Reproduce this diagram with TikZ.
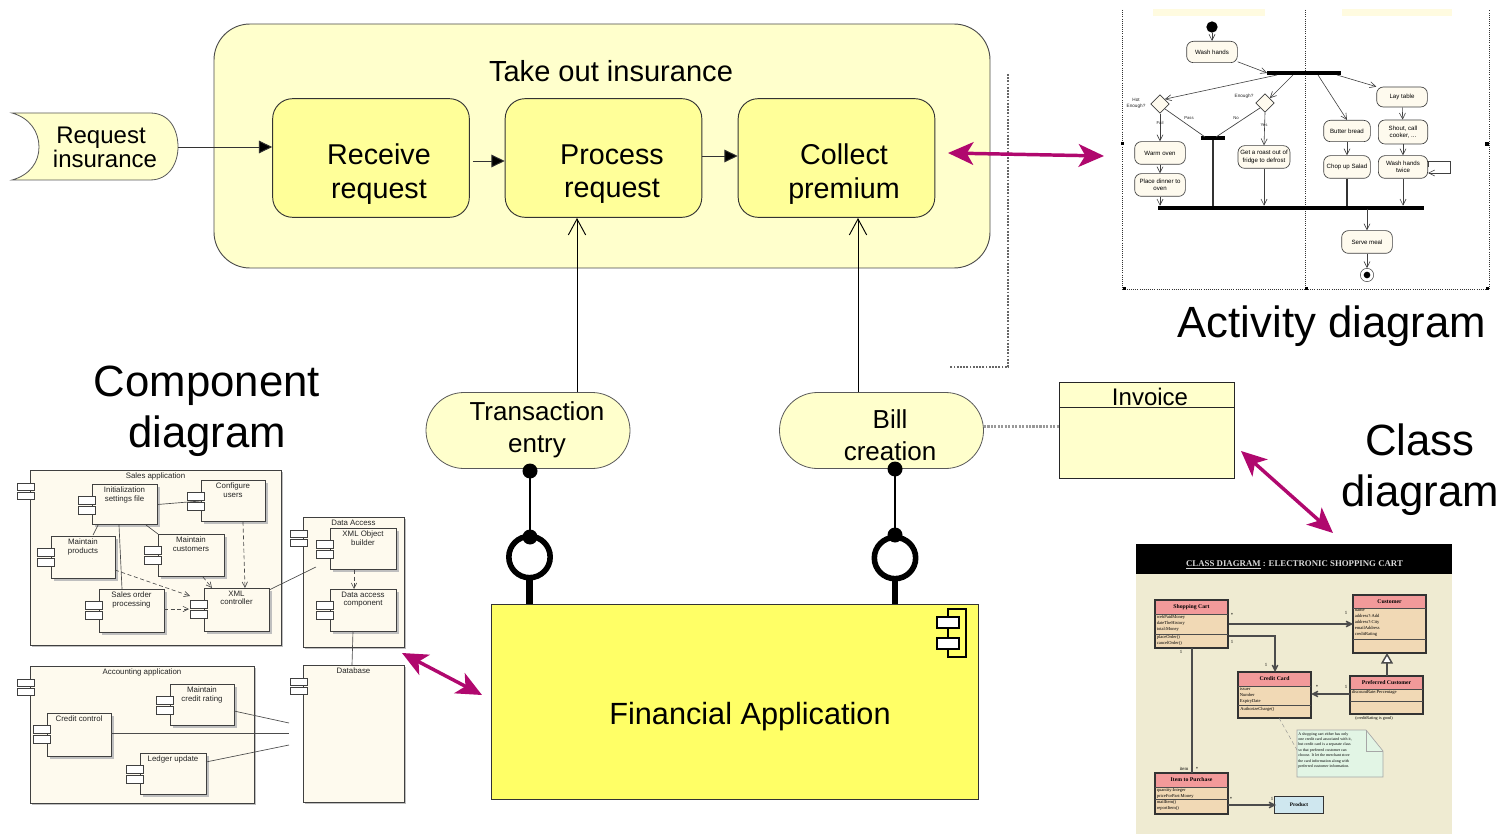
\documentclass[tikz,border=0pt]{standalone}
\usepackage{fontspec}
\setmainfont{Liberation Sans}
\newfontfamily\serifx{Liberation Serif}
\usetikzlibrary{arrows.meta,shapes.geometric,shapes.misc,positioning,calc}
\definecolor{palebg}{HTML}{FFFFCC}
\definecolor{midy}{HTML}{FFFF99}
\definecolor{fin}{HTML}{FFFF66}
\definecolor{mag}{HTML}{B0086E}
\definecolor{chip}{HTML}{FEFAEE}
\definecolor{tan}{HTML}{F1D9B5}
\definecolor{pink}{HTML}{F29A9A}
\definecolor{ccbg}{HTML}{EFEBD2}
\definecolor{note}{HTML}{E2F5E5}
\definecolor{prod}{HTML}{CFE7EF}
\definecolor{band}{HTML}{FFFBE0}
\tikzset{
 x=0.75pt,y=-0.75pt,
 proc/.style={draw=black!80,fill=midy,rounded corners=15pt,line width=.7pt,align=center,font=\fontsize{21.5}{25}\selectfont,minimum width=147.5pt,minimum height=89pt,inner sep=0pt},
 svc/.style={draw=black!65,fill=palebg,rounded rectangle,line width=.6pt,align=center,font=\fontsize{19.5}{24}\selectfont,minimum width=153pt,minimum height=57pt,inner sep=0pt},
 lbl/.style={font=\fontsize{21.8}{25}\selectfont,align=center,inner sep=0pt},
 biglbl/.style={font=\fontsize{32.8}{38.5}\selectfont,align=center,inner sep=0pt},
 flow/.style={line width=.7pt,draw=black!80,-{Triangle[length=10pt,width=9.5pt,fill=black]}},
 real/.style={line width=.7pt,-{Straight Barb[length=12pt,width=13pt]}},
 dblarrow/.style={draw=mag,line width=2.6pt,{Stealth[length=19pt,width=17pt,inset=5pt]}-{Stealth[length=19pt,width=17pt,inset=5pt]}},
 dots/.style={densely dotted,line width=1.4pt,draw=black!60},
 cmp/.style={draw=black!75,fill=chip,line width=.7pt,inner sep=0pt,align=center,anchor=north west,text depth=0pt},
 pin/.style={draw=black!75,fill=white,line width=.6pt},
 tiny/.style={font=\fontsize{5.9}{6.2}\selectfont,inner sep=0pt,align=center,text=black!85},
 act/.style={draw=black!75,fill=chip,rounded corners=5pt,line width=.5pt,font=\fontsize{4.6}{5.4}\selectfont,align=center,inner sep=0pt},
 cl/.style={draw=black!80,line width=1.1pt},
 ctext/.style={font=\serifx\fontsize{3.4}{4.4}\selectfont,inner sep=0pt,anchor=north west,align=left},
 chead/.style={font=\serifx\bfseries\fontsize{4.3}{5}\selectfont,inner sep=0pt},
}
\newcommand{\chipbox}[6]{%
 \fill[black!25] (#2+3,#3+3) rectangle ++(#4,#5);
 \node[cmp,minimum width=#4*.75pt,minimum height=#5*.75pt] (#1) at (#2,#3) {};
 \node[tiny,anchor=north] at (#2+#4/2,#3+3) {#6};
 \draw[pin] (#2-14,#3+12) rectangle ++(17,8.5);
 \draw[pin] (#2-14,#3+22) rectangle ++(17,8.5);
}
\newcommand{\outerchip}[6]{%
 \fill[black!25] (#2+2,#3+2) rectangle ++(#4,#5);
 \node[cmp,minimum width=#4*.75pt,minimum height=#5*.75pt] (#1) at (#2,#3) {};
 \node[tiny,anchor=north] at (#2+#4/2,#3+3) {#6};
 \draw[pin] (#2-13,#3+13) rectangle ++(17,7.5);
 \draw[pin] (#2-13,#3+22) rectangle ++(17,7.5);
}
\newcommand{\umlclass}[9]{%
 \node[cl,fill=tan,anchor=north west,minimum width=#4*.75pt,minimum height=#6*.75pt,inner sep=0pt] (#1) at (#2,#3) {};
 \fill[pink] (#2,#3) rectangle ++(#4,#5);
 \draw[cl] (#2,#3) rectangle ++(#4,#6);
 \draw[line width=.6pt,black!70] (#2,#3+#5) -- ++(#4,0);
 \draw[line width=.6pt,black!70] (#2,#3+#7) -- ++(#4,0);
 \node[chead] at (#2+#4/2,#3+#5/2) {#8};
 \node[ctext] at (#2+1.5,#3+#5+1.5) {#9};
}
\begin{document}
\begin{tikzpicture}
\useasboundingbox (0,0) rectangle (1506,834);
\fill[white] (0,0) rectangle (1506,834);

% Process container
\node[draw=black!70,fill=palebg,rounded corners=27pt,line width=.7pt,minimum width=582pt,minimum height=183pt,inner sep=0pt] (take) at (602,146) {};
\node[lbl] (taket) at (611,71) {Take out insurance};
\node[proc] (recv) at (371,158) {};
\node[proc] (proc) at (603.5,158) {};
\node[proc] (coll) at (836.5,158) {};
\node[font=\fontsize{21.5}{25}\selectfont,align=center,inner sep=0pt] (recvt) at (379,174) {Receive\\request};
\node[font=\fontsize{21.5}{25}\selectfont,align=center,inner sep=0pt] (proct) at (612,174) {Process\\request};
\node[font=\fontsize{21.5}{25}\selectfont,align=center,inner sep=0pt] (collt) at (844,174) {Collect\\premium};

% Trigger event
\fill[palebg] (12,113) .. controls (30,118) and (39,132) .. (39,147) .. controls (39,162) and (30,175) .. (12,180) -- (150,180) .. controls (170,180) and (178,162) .. (178,147) .. controls (178,130) and (170,113) .. (150,113) -- cycle;
\draw[black!65,line width=.6pt] (12,113) .. controls (30,118) and (39,132) .. (39,147) .. controls (39,162) and (30,175) .. (12,180) -- (150,180) .. controls (170,180) and (178,162) .. (178,147) .. controls (178,130) and (170,113) .. (150,113) -- cycle;
\node[font=\fontsize{18}{18}\selectfont,align=center,inner sep=0pt] (req) at (105,147) {\hspace*{-6pt}Request\\insurance};
\coordinate (reqe) at (178,147);
\draw[flow] (reqe) -- (recv.west |- reqe);
\draw[flow] ($(recv.east)+(3,3)$) -- ($(proc.west)+(0,3)$);
\draw[flow] ($(proc.east)+(0,-2)$) -- ($(coll.west)+(0,-2)$);

% Services
\node[svc] (trans) at (528,430.5) {};
\node[svc] (bill) at (881.5,430.5) {};
\node[font=\fontsize{19.5}{24}\selectfont,align=center,inner sep=0pt] (transt) at (537,430) {Transaction\\entry};
\node[font=\fontsize{19.5}{24}\selectfont,align=center,inner sep=0pt] (billt) at (890,435) {Bill\\creation};
\draw[real] (577,392) -- (577,218);
\draw[real] (858,392) -- (858,218);

% Financial application
\node[draw=black!80,fill=fin,line width=.8pt,minimum width=365pt,minimum height=146pt,inner sep=0pt] (fa) at (735,702) {};
\node[font=\fontsize{23}{27}\selectfont,inner sep=0pt] (fat) at (750,717) {Financial Application};
\draw[line width=1pt,fill=fin] (948,609) rectangle (966,657);
\draw[pin,line width=.8pt,draw=black] (937,617) rectangle (959,628);
\draw[pin,line width=.8pt,draw=black] (937,638) rectangle (959,649);

% Interfaces
\coordinate (tu) at (530,471);
\coordinate (bu) at (895,469);
\node[draw=black,line width=4.2pt,circle,fill=white,minimum size=31pt,inner sep=0pt] (ti) at (529.5,557) {};
\node[draw=black,line width=4.2pt,circle,fill=white,minimum size=31pt,inner sep=0pt] (bi) at (895,558) {};
\draw[line width=.8pt] (tu) -- (530,537);
\draw[line width=.8pt] (bu) -- (895,535);
\fill (tu) circle (7.5);
\fill (bu) circle (7.5);
\fill (530,537) circle (7.5);
\fill (895,535) circle (7.5);
\draw[line width=5pt] (ti.south) -- (ti.south |- fa.north);
\draw[line width=5pt] (bi.south) -- (bi.south |- fa.north);

% Invoice
\node[draw=black!85,fill=palebg,line width=.8pt,minimum width=131pt,minimum height=72pt,inner sep=0pt] (inv) at (1147,430.5) {};
\draw[line width=.8pt,black!85] (1060,407.5) -- (1234,407.5);
\node[font=\fontsize{18}{22}\selectfont,inner sep=0pt] (invt) at (1150,397) {Invoice};
\draw[draw=black!40,densely dotted,line width=1.6pt] ($(bill.east)+(0,-4)$) -- ($(inv.west)+(0,-4)$);

% Dotted L from container
\coordinate (da) at (1008,74);
\coordinate (db) at (1008,367);
\coordinate (dc) at (950,367);
\draw[dots] (da) -- (db) -- (dc);

% Double arrows
\coordinate (a1) at (948,153);
\coordinate (a2) at (1104,156);
\draw[dblarrow] (a1) -- (a2);
\coordinate (b1) at (1241,451);
\coordinate (b2) at (1333,533);
\draw[dblarrow] (b1) -- (b2);
\coordinate (c1) at (402,653);
\coordinate (c2) at (482,695);
\draw[dblarrow] (c1) -- (c2);

% Big labels
\node[biglbl] (l1) at (1332,326) {Activity diagram};
\node[biglbl] (l2) at (207,411) {Component\\diagram};
\node[biglbl] (l3) at (1420,470) {Class\\diagram};

% --- component diagram thumbnail ---
\outerchip{sa}{30}{470}{251}{175}{Sales application}
\outerchip{da}{303}{517}{101}{130}{Data Access}
\outerchip{aa}{30}{666}{224}{137}{Accounting application}
\outerchip{db}{303}{665}{101}{137}{Database}
\chipbox{is}{92}{484}{65}{40}{Initialization\\settings file}
\chipbox{cu}{201}{480}{64}{41}{Configure\\users}
\chipbox{mp}{51}{536}{64}{42}{Maintain\\products}
\chipbox{mc}{158}{534}{66}{42}{Maintain\\customers}
\chipbox{so}{99}{589}{65}{43}{Sales order\\processing}
\chipbox{xc}{204}{588}{65}{43}{XML\\controller}
\chipbox{xo}{330}{528}{66}{41}{XML Object\\builder}
\chipbox{dc}{330}{589}{66}{42}{Data access\\component}
\chipbox{mr}{170}{684}{64}{41}{Maintain\\credit rating}
\chipbox{cc}{47}{713}{64}{43}{Credit control}
\chipbox{lu}{140}{753}{66}{41}{Ledger update}
\tikzset{thin1/.style={line width=.5pt,draw=black!70},dsh/.style={line width=.5pt,draw=black!70,densely dashed,-{Straight Barb[length=4pt,width=4pt]}}}
\draw[thin1] (is.east) -- (cu.west);
\draw[thin1] (98,525) -- (93,535);
\draw[thin1] (119,525) -- (122,589);
\draw[thin1] (146,525) -- (158,534);
\draw[dsh] (243,522) -- (245,588);
\draw[dsh] (203,577) -- (212,588);
\draw[dsh] (115,570) -- (190,596);
\draw[dsh] (164,609) -- (189,609);
\draw[thin1] (269,590) -- (316,567);
\draw[dsh] (354,570) -- (354,589);
\draw[thin1] (353,631) -- (352,665);
\draw[thin1] (234,711) -- (289,723);
\draw[thin1] (111,733) -- (289,733);
\draw[thin1] (206,762) -- (289,745);

% --- activity thumbnail ---
\tikzset{frm/.style={densely dotted,line width=.6pt,draw=black!80},ah/.style={line width=.45pt,draw=black!75,-{Straight Barb[length=4.5pt,width=4.5pt]}},ln/.style={line width=.5pt,draw=black!75},bar/.style={fill=black,inner sep=0pt}}
\fill[band] (1153,9) rectangle (1265,16);
\fill[band] (1342,9) rectangle (1452,16);
\coordinate (f1) at (1122,10); \coordinate (f2) at (1122,289);
\coordinate (f3) at (1305,10); \coordinate (f4) at (1305,289);
\coordinate (f5) at (1489,10); \coordinate (f6) at (1489,289);
\draw[frm] (f1) -- (f2) -- (f6) -- (f5);
\draw[frm] (f3) -- (f4);
\foreach \p in {1123,1305,1486} \fill (\p,287) rectangle ++(3,3);
\fill (1121,142) rectangle ++(3,3);
\fill (1485,142) rectangle ++(4,4);
\node[circle,fill=black,minimum size=8.5pt,inner sep=0pt] (as) at (1212,27) {};
\node[act,minimum width=38pt,minimum height=16pt] (wash) at (1212,52) {Wash hands};
\node[bar,minimum width=55pt,minimum height=3pt] (b1a) at (1304,73) {};
\node[act,minimum width=38pt,minimum height=15pt] (lay) at (1402,97) {Lay table};
\node[draw=black!75,fill=chip,diamond,aspect=1,minimum size=14pt,inner sep=0pt,line width=.5pt] (d1) at (1160,104) {};
\node[draw=black!75,fill=chip,diamond,aspect=1,minimum size=14pt,inner sep=0pt,line width=.5pt] (d2) at (1265,103) {};
\node[tiny,font=\fontsize{3.5}{4.5}\selectfont] (q1) at (1136,103) {Hot\\Enough?};
\node[tiny,font=\fontsize{3.5}{4.5}\selectfont] (q2) at (1244,96) {Enough?};
\node[bar,minimum width=17.5pt,minimum height=2.5pt] (b2a) at (1213,138) {};
\node[act,minimum width=38pt,minimum height=17pt] (warm) at (1160,153) {Warm oven};
\node[act,minimum width=38pt,minimum height=17pt] (place) at (1160,185) {Place dinner to\\oven};
\node[act,minimum width=39pt,minimum height=17pt] (roast) at (1264,157) {Get a roast out of\\fridge to defrost};
\node[act,minimum width=35pt,minimum height=16pt] (butter) at (1347,131) {Butter bread};
\node[act,minimum width=35pt,minimum height=17pt] (chop) at (1347,167) {Chop up Salad};
\node[act,minimum width=37pt,minimum height=18pt] (shout) at (1403,132) {Shout, call\\cooker, ...};
\node[act,minimum width=37pt,minimum height=17pt] (wash2) at (1403,167) {Wash hands\\twice};
\node[bar,minimum width=200pt,minimum height=3pt] (b3) at (1291,208) {};
\node[act,minimum width=38pt,minimum height=17pt] (serve) at (1367,242) {Serve meal};
\node[circle,draw=black!70,fill=white,minimum size=10pt,inner sep=0pt,line width=.4pt] (ae) at (1367,275) {};
\node[circle,fill=black,minimum size=5pt,inner sep=0pt] at (ae) {};
\draw[ah] (as) -- (wash);
\draw[ah] (wash) -- (b1a.west);
\draw[ah] (1277,75) -- (d1.north east);
\draw[ah] (1293,75) -- (d2.north east);
\draw[ah] (1318,75) -- (butter.north);
\draw[ah] (1337,75) -- (lay.north west);
\draw[ah] (d1.south) -- (warm.north);
\draw[ah] (warm) -- (place);
\draw[ah] (place.south) -- (place.south |- b3.north);
\draw[ln] (d1.south east) -- (1205,137);
\draw[ln] (d2.south west) -- (1216,137);
\draw[line width=.8pt,draw=black!80] (b2a.south) -- (b2a.south |- b3.north);
\draw[ah] (d2.south) -- (roast.north);
\draw[ah] (roast.south) -- (roast.south |- b3.north);
\draw[ah] (butter) -- (chop);
\draw[line width=.8pt,draw=black!80] (chop.south) -- (chop.south |- b3.north);
\draw[ah] (lay) -- (shout);
\draw[ah] (shout) -- (wash2);
\draw[ah] (wash2.south) -- (wash2.south |- b3.north);
\draw[ah] (wash2.east) -- ++(0,-6) -| (1450,173) -- ($(wash2.east)+(0,6)$);
\draw[ah] (1367,209) -- (serve.north);
\draw[ah] (serve.south) -- (ae.north);
\node[tiny,font=\fontsize{3.2}{4}\selectfont] (lf) at (1160,123) {Fail};
\node[tiny,font=\fontsize{3.2}{4}\selectfont] (lp) at (1189,118) {Pass};
\node[tiny,font=\fontsize{3.2}{4}\selectfont] (lno) at (1236,118) {No};
\node[tiny,font=\fontsize{3.2}{4}\selectfont] (lyes) at (1264,125) {Yes};

% --- class thumbnail ---
\fill[ccbg] (1136,570) rectangle (1452,834);
\node[fill=black,minimum width=237pt,minimum height=23pt,inner sep=0pt] (hdr) at (1294,559) {};
\node[text=white!85!black,font=\serifx\bfseries\fontsize{6.6}{7}\selectfont,inner sep=0pt] (hdrt) at (1294.5,564.5) {\underline{CLASS DIAGRAM} : ELECTRONIC SHOPPING CART};
\umlclass{sc}{1155}{600}{73}{14}{48}{34}{Shopping Cart}{webPaidMoney\\dateTheHistory\\total:Money}
\node[ctext] at (1156.5,635) {placeOrder()\\cancelOrder()};
\umlclass{cu2}{1353}{595}{73}{13}{58}{44}{Customer}{name\\address?:Add\\address?:City\\emailAddress\\creditRating}
\umlclass{cc2}{1238}{672}{73}{14}{46}{33}{Credit Card}{issuer\\Number\\ExpiryDate}
\node[ctext] at (1240,707) {AuthorizeCharge()};
\umlclass{pc}{1350}{676}{73}{13}{38}{25}{Preferred Customer}{discountRate:Percentage}
\umlclass{ip}{1155}{773}{73}{14}{41}{26}{Item to Purchase}{quantity:Integer\\priceForPart:Money}
\node[ctext] at (1156.5,800) {mailItem()\\reportItem()};
\node[draw=black!80,fill=prod,line width=1pt,minimum width=37pt,minimum height=13pt,inner sep=0pt,font=\serifx\bfseries\fontsize{4}{5}\selectfont] (pr) at (1299,805) {Product};
\fill[note] (1297,730) -- (1366,730) -- (1383,751) -- (1383,777) -- (1297,777) -- cycle;
\draw[black!35,line width=.5pt] (1297,730) -- (1366,730) -- (1383,751) -- (1383,777) -- (1297,777) -- cycle;
\draw[black!35,line width=.5pt] (1366,730) -- (1366,751) -- (1383,751);
\coordinate (nt) at (1297,750);
\draw[black!45,line width=.3pt,densely dashed] (1279,718) -- (nt);
\node[ctext,font=\serifx\fontsize{3}{4.1}\selectfont] (nx) at (1298,732) {A shopping cart either has only\\one credit card associated with it,\\but credit card is a separate class\\so that preferred customer can\\choose. It let the merchant store\\the card information along with\\preferred customer information.};
\node[ctext,font=\serifx\fontsize{3.2}{4}\selectfont] (lr) at (1355,716) {(creditRating is good)};
\tikzset{asc/.style={draw=black!70,line width=1.1pt},asca/.style={asc,-{Straight Barb[length=4pt,width=4pt]}}}
\draw[asca] (1229,624) -- (1353,624);
\draw[asca] (1229,636) -- (1275,636) -- (1275,672);
\draw[asc] (1192,648) -- (1192,773);
\draw[asca] (1350,694) -- (1311,694);
\draw[asc,-{Triangle[open,length=8pt,width=9pt,fill=white]}] (1387,676) -- (1387,653);
\draw[asca] (1228,805) -- (1276,805);
\tikzset{mul/.style={font=\serifx\fontsize{3.6}{4}\selectfont,inner sep=0pt}}
\node[mul] (m1) at (1232,615) {*};
\node[mul] (m2) at (1346,613) {1};
\node[mul] (m3) at (1232,642) {1};
\node[mul] (m4) at (1266,665) {1};
\node[mul] (m5) at (1181,652) {1};
\node[mul] (m6) at (1184,769) {item};
\node[mul] (m7) at (1197,769) {*};
\node[mul] (m8) at (1317,687) {*};
\node[mul] (m9) at (1346,687) {1};
\node[mul] (m10) at (1231,799) {*};
\node[mul] (m11) at (1272,799) {1};
\end{tikzpicture}
\end{document}
